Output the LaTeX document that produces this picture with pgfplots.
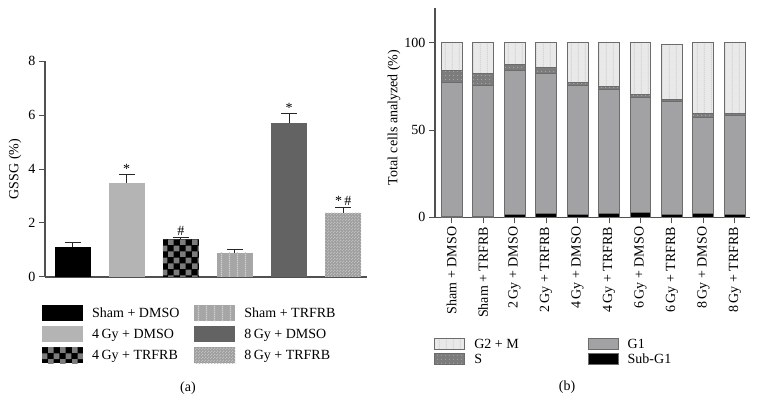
\documentclass[border=0pt]{standalone}
\usepackage{fontspec}
\setmainfont{Liberation Serif}
\usepackage{pgfplots}
\pgfplotsset{compat=1.18}
\usetikzlibrary{patterns.meta}

\definecolor{c2}{HTML}{B4B4B4}
\definecolor{c3}{HTML}{7C7C7C}
\definecolor{c4}{HTML}{A6A6A6}
\definecolor{c4l}{HTML}{CFCFCF}
\definecolor{c5}{HTML}{636363}
\definecolor{c6}{HTML}{9D9D9D}
\definecolor{c6l}{HTML}{BEBEBE}
\definecolor{gm}{HTML}{E9E9E9}
\definecolor{gml}{HTML}{CDCDCD}
\definecolor{sS}{HTML}{7C7C7C}
\definecolor{sSl}{HTML}{A8A8A8}
\definecolor{gone}{HTML}{A2A2A4}
\definecolor{edge}{HTML}{6C6C6C}
\definecolor{axc}{HTML}{505050}

\tikzdeclarepattern{name=checkA, type=uncolored,
  bottom left={(0pt,0pt)}, top right={(12pt,12pt)}, tile size={(12pt,12pt)},
  code={\fill (0pt,0pt) rectangle (6pt,6pt); \fill (6pt,6pt) rectangle (12pt,12pt);}}
\tikzdeclarepattern{name=vlinesA, type=uncolored,
  bottom left={(0pt,0pt)}, top right={(7.5pt,2pt)}, tile size={(7.5pt,2pt)},
  code={\fill (3pt,0pt) rectangle (4.4pt,2pt);}}
\tikzdeclarepattern{name=fineCheck, type=uncolored,
  bottom left={(0pt,0pt)}, top right={(3pt,3pt)}, tile size={(3pt,3pt)},
  code={\fill (0pt,0pt) rectangle (1.5pt,1.5pt); \fill (1.5pt,1.5pt) rectangle (3pt,3pt);}}
\tikzdeclarepattern{name=vlinesB, type=uncolored,
  bottom left={(0pt,0pt)}, top right={(6.5pt,2pt)}, tile size={(6.5pt,2pt)},
  code={\fill (3pt,0pt) rectangle (3.8pt,2pt);}}
\tikzdeclarepattern{name=dotsS, type=uncolored,
  bottom left={(0pt,0pt)}, top right={(4pt,4pt)}, tile size={(4pt,4pt)},
  code={\fill (2pt,2pt) circle (0.7pt);}}

\pgfplotsset{
  b1/.style={fill=black, draw=none},
  b2/.style={fill=c2, draw=none},
  b3/.style={fill=black, draw=none, postaction={pattern=checkA, pattern color=c3}},
  b4/.style={fill=c4, draw=none, postaction={pattern=vlinesA, pattern color=c4l}},
  b5/.style={fill=c5, draw=none},
  b6/.style={fill=c6, draw=none, postaction={pattern=fineCheck, pattern color=c6l}},
  rG/.style={fill=gm, draw=edge, line width=1pt, postaction={pattern=vlinesB, pattern color=gml}},
  rS/.style={fill=sS, draw=edge, line width=1pt, postaction={pattern=dotsS, pattern color=sSl}},
  rO/.style={fill=gone, draw=edge, line width=1pt},
  rB/.style={fill=black, draw=edge, line width=1pt},
  limgL/.style={legend image code/.code={\path[##1] (0pt,-8pt) rectangle (41pt,8pt);}},
  limgR/.style={legend image code/.code={\draw[##1] (0pt,-5.5pt) rectangle (30pt,5.5pt);}},
  every axis/.append style={font=\fontsize{14}{16}\selectfont},
  errst/.style={error bars/.cd, y dir=plus, y explicit,
    error bar style={line width=1pt, black!85},
    error mark options={line width=1pt, black!85, mark size=8pt, rotate=90}},
}

\begin{document}
\begin{tikzpicture}
\useasboundingbox (0pt,0pt) rectangle (759pt,401pt);

% ---------- panel (a)
\begin{axis}[
  at={(45pt,124pt)}, anchor=south west,
  scale only axis, width=322pt, height=216pt,
  xmin=-0.508, xmax=5.44, ymin=0, ymax=8,
  axis x line*=bottom, axis y line*=left,
  axis line style={-, line width=1.1pt, draw=axc},
  xtick=\empty, ytick={0,2,4,6,8},
  tick align=outside, major tick length=6pt,
  tick style={line width=1pt, draw=axc},
  /pgf/number format/assume math mode=true,
  ylabel={GSSG (\%)},
  every axis y label/.style={at={(axis description cs:-0.093,0.5)}, rotate=90, anchor=center},
  ybar, bar width=0.665,
  legend columns=2,
  legend style={at={(axis description cs:-0.0093,-0.130)}, anchor=north west,
    draw=none, fill=none, inner sep=0pt, row sep=5pt,
    font=\fontsize{14}{16}\selectfont,
    nodes={inner xsep=0pt, inner ysep=1pt},
    /tikz/every odd column/.append style={column sep=9pt},
    /tikz/every even column/.append style={column sep=15pt}},
  legend cell align=left,
  clip=false,
]
\addplot[b1, limgL, bar shift=0pt, errst] coordinates {(0,1.11) +- (0,0.17)};
\addlegendentry{Sham + DMSO}
\addplot[b4, limgL, bar shift=0pt, errst] coordinates {(3,0.90) +- (0,0.12)};
\addlegendentry{Sham + TRFRB}
\addplot[b2, limgL, bar shift=0pt, errst] coordinates {(1,3.50) +- (0,0.28)};
\addlegendentry{4\,Gy + DMSO}
\addplot[b5, limgL, bar shift=0pt, errst] coordinates {(4,5.71) +- (0,0.33)};
\addlegendentry{8\,Gy + DMSO}
\addplot[b3, limgL, bar shift=0pt, errst] coordinates {(2,1.39) +- (0,0.07)};
\addlegendentry{4\,Gy + TRFRB}
\addplot[b6, limgL, bar shift=0pt, errst] coordinates {(5,2.38) +- (0,0.20)};
\addlegendentry{8\,Gy + TRFRB}
\node[anchor=south, inner sep=1pt] at (axis cs:1,3.80) {*};
\node[anchor=south, inner sep=1pt] at (axis cs:2,1.48) {\#};
\node[anchor=south, inner sep=1pt] at (axis cs:4,6.06) {*};
\node[anchor=south, inner sep=1pt] at (axis cs:5,2.60) {*\,\#};
\end{axis}

% ---------- panel (b)
\begin{axis}[
  at={(435pt,183.7pt)}, anchor=south west,
  scale only axis, width=315pt, height=209.3pt,
  xmin=-0.53, xmax=9.48, ymin=0, ymax=120,
  axis x line*=bottom, axis y line*=left,
  axis line style={-, line width=1.1pt, draw=axc},
  xtick={0,...,9},
  xticklabels={Sham + DMSO, Sham + TRFRB, 2\,Gy + DMSO, 2\,Gy + TRFRB, 4\,Gy + DMSO, 4\,Gy + TRFRB, 6\,Gy + DMSO, 6\,Gy + TRFRB, 8\,Gy + DMSO, 8\,Gy + TRFRB},
  xticklabel style={rotate=90, anchor=east},
  ytick={0,50,100},
  tick align=outside, major tick length=6pt,
  tick style={line width=1pt, draw=axc},
  /pgf/number format/assume math mode=true,
  ylabel={Total cells analyzed (\%)},
  every axis y label/.style={at={(axis description cs:-0.130,0.477)}, rotate=90, anchor=center},
  ybar stacked, bar width=0.667,
  legend columns=2,
  legend style={at={(axis description cs:-0.003,-0.575)}, anchor=north west,
    draw=none, fill=none, inner sep=0pt, row sep=2pt,
    font=\fontsize{14}{16}\selectfont,
    nodes={inner xsep=0pt, inner ysep=1pt},
    /tikz/every odd column/.append style={column sep=9pt},
    /tikz/every even column/.append style={column sep=69pt}},
  legend cell align=left,
  clip=false,
]
\addlegendimage{rG, limgR}
\addlegendimage{rO, limgR}
\addlegendimage{rS, limgR}
\addlegendimage{rB, limgR}
\legend{G2 + M, G1, S, Sub-G1}
\addplot[rB] coordinates {(0,0.3) (1,0.6) (2,1.7) (3,2.1) (4,1.5) (5,2.1) (6,2.5) (7,1.7) (8,1.9) (9,1.7)};
\addplot[rO] coordinates {(0,77.0) (1,75.0) (2,82.5) (3,80.5) (4,74.1) (5,71.2) (6,66.4) (7,64.7) (8,55.5) (9,56.9)};
\addplot[rS] coordinates {(0,6.7) (1,6.8) (2,3.4) (3,3.3) (4,1.9) (5,1.5) (6,1.3) (7,1.3) (8,2.1) (9,0.9)};
\addplot[rG] coordinates {(0,16.0) (1,17.6) (2,12.4) (3,14.1) (4,22.5) (5,25.2) (6,29.8) (7,31.2) (8,40.5) (9,40.5)};
\end{axis}

\node[font=\fontsize{14}{16}\selectfont] at (188pt,13pt) {(a)};
\node[font=\fontsize{14}{16}\selectfont] at (567pt,14pt) {(b)};
\end{tikzpicture}
\end{document}
